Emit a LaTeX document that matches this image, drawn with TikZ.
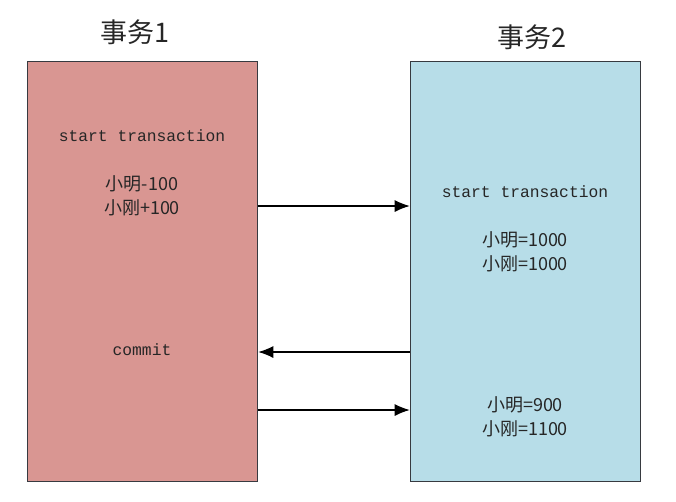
\documentclass[tikz,border=0pt]{standalone}
\usepackage{fontspec}
\setmainfont{Liberation Serif}
\newfontfamily\cjk{Noto Sans CJK SC}
\newfontfamily\monof{Liberation Mono}
\usetikzlibrary{arrows.meta}
\definecolor{redbox}{RGB}{217,150,146}
\definecolor{bluebox}{RGB}{183,221,232}
\definecolor{edge}{RGB}{55,58,64}
\tikzset{
  txbox/.style={draw=edge, line width=1.6pt, minimum width=230pt, minimum height=420pt, inner sep=0pt},
  mono/.style={font=\monof\fontsize{16.3}{19}\selectfont, text=black!85},
  zh/.style={font=\cjk\fontsize{18}{24}\selectfont, align=center, text=black!85},
  ttl/.style={font=\cjk\fontsize{27}{32}\selectfont, text=black!85},
  msg/.style={line width=1.1pt, -{Latex[length=15pt,width=12pt]}}
}
\begin{document}
\begin{tikzpicture}[x=1pt,y=-1pt]
\useasboundingbox (0,0) rectangle (676,501);
\node[txbox, fill=redbox] (t1) at (142.5,271.5) {};
\node[txbox, fill=bluebox] (t2) at (525.5,271.5) {};
\node[ttl] (h1) at (135,32) {事务1};
\node[ttl] (h2) at (532,37) {事务2};
\node[mono] (s1) at (142,136) {start transaction};
\node[zh] (c1) at (142,196) {小明-100\\小刚+100};
\node[mono] (cm) at (142,350) {commit};
\node[mono] (s2) at (525,192) {start transaction};
\node[zh] (c2) at (525,252) {小明=1000\\小刚=1000};
\node[zh] (c3) at (525,417) {小明=900\\小刚=1100};
\coordinate (a1) at (0,206);
\coordinate (a2) at (0,352);
\coordinate (a3) at (0,410);
\draw[msg] (t1.east |- a1) -- (t2.west |- a1);
\draw[msg] (t2.west |- a2) -- (t1.east |- a2);
\draw[msg] (t1.east |- a3) -- (t2.west |- a3);
\end{tikzpicture}
\end{document}
